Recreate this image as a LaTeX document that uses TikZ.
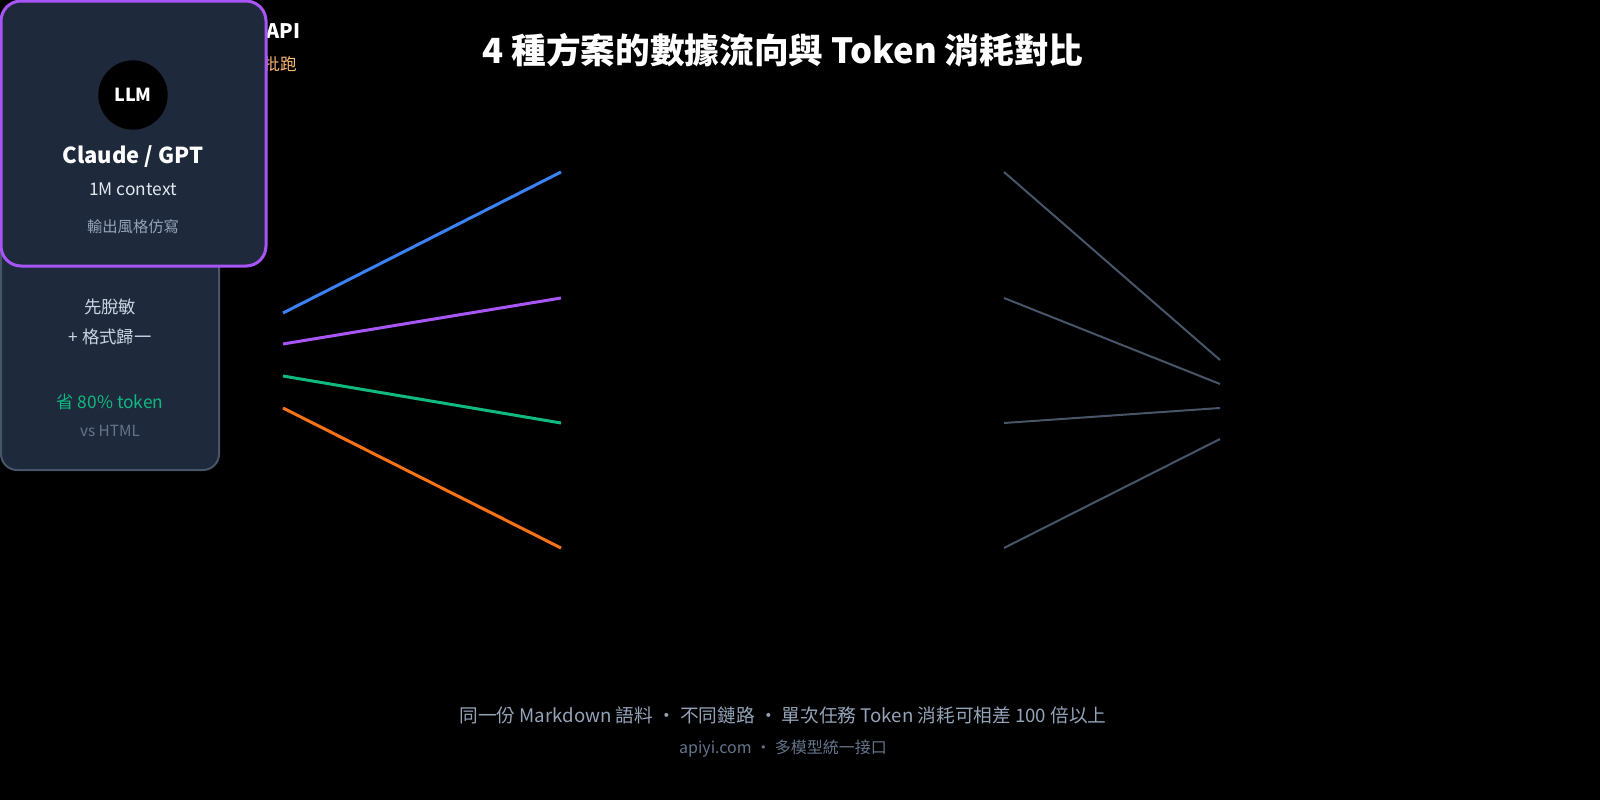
\documentclass[tikz,border=0pt]{standalone}
\usepackage{fontspec}
\setmainfont{Noto Sans CJK TC}
\definecolor{cardbg}{HTML}{1E293B}
\definecolor{cardline}{HTML}{475569}
\definecolor{purp}{HTML}{A855F7}
\definecolor{blu}{HTML}{3B82F6}
\definecolor{grn}{HTML}{10B981}
\definecolor{orng}{HTML}{F97316}
\definecolor{peach}{HTML}{FDBA74}
\definecolor{lgray}{HTML}{E2E8F0}
\definecolor{mgray}{HTML}{94A3B8}
\definecolor{dgray}{HTML}{64748B}
\definecolor{sgray}{HTML}{CBD5E1}
\begin{document}
\begin{tikzpicture}[x=0.75pt,y=-0.75pt,
  txt/.style={inner sep=0pt,anchor=center},
  fsz/.style={font=\fontsize{#1}{#1}\selectfont},
  flow/.style={line width=2.25pt},
  gline/.style={line width=1.5pt,draw=cardline}]
\fill[black] (0,0) rectangle (1600,800);
% hidden labels behind top card
\node[txt,anchor=east,text=white,font=\bfseries\fontsize{15}{15}\selectfont] (api) at (301,31) {Claude API};
\node[txt,anchor=east,text=peach,fsz=12.5] (batch) at (297,64) {批跑};
% lower card
\draw[fill=cardbg,draw=cardline,line width=1.5pt,rounded corners=12pt] (1,200) rectangle (219,470);
\node[txt,text=sgray,fsz=13] (t1) at (110,307) {先脫敏};
\node[txt,text=sgray,fsz=13] (t2) at (110,337) {+ 格式歸一};
\node[txt,text=grn,fsz=13] (t3) at (110,402) {省 80\% token};
\node[txt,text=dgray,fsz=11.5] (t4) at (110,431) {vs HTML};
% top card
\draw[fill=cardbg,draw=purp,line width=2.25pt,rounded corners=15pt] (1,1) rectangle (266,266);
\node[circle,fill=black,minimum size=52pt,inner sep=0pt,text=white,font=\bfseries\fontsize{13.5}{13.5}\selectfont] (llm) at (133,95) {LLM};
\node[txt,text=white,font=\bfseries\fontsize{16.5}{16.5}\selectfont] (cg) at (133,157) {Claude / GPT};
\node[txt,text=lgray,fsz=13] (ctx) at (133,189) {1M context};
\node[txt,text=mgray,fsz=11.5] (sty) at (133,227) {輸出風格仿寫};
% title
\node[txt,text=white,font=\bfseries\fontsize{26}{26}\selectfont] (title) at (783,50) {4 種方案的數據流向與 Token 消耗對比};
% connectors
\coordinate (a1) at (283,313); \coordinate (b1) at (561,172);
\coordinate (a2) at (283,344); \coordinate (b2) at (561,298);
\coordinate (a3) at (283,376); \coordinate (b3) at (561,423);
\coordinate (a4) at (283,408); \coordinate (b4) at (561,548);
\draw[flow,blu] (a1) -- (b1);
\draw[flow,purp] (a2) -- (b2);
\draw[flow,grn] (a3) -- (b3);
\draw[flow,orng] (a4) -- (b4);
\coordinate (c1) at (1004,172); \coordinate (d1) at (1220,360);
\coordinate (c2) at (1004,298); \coordinate (d2) at (1220,384);
\coordinate (c3) at (1004,423); \coordinate (d3) at (1220,408);
\coordinate (c4) at (1004,548); \coordinate (d4) at (1220,439);
\draw[gline] (c1) -- (d1);
\draw[gline] (c2) -- (d2);
\draw[gline] (c3) -- (d3);
\draw[gline] (c4) -- (d4);
% footer
\node[txt,text=mgray,fsz=14] (f1) at (783,715) {同一份 Markdown 語料 · 不同鏈路 · 單次任務 Token 消耗可相差 100 倍以上};
\node[txt,text=dgray,fsz=12] (f2) at (783,749) {apiyi.com · 多模型統一接口};
\pgfresetboundingbox
\useasboundingbox (0,0) rectangle (1600,800);
\end{tikzpicture}
\end{document}
